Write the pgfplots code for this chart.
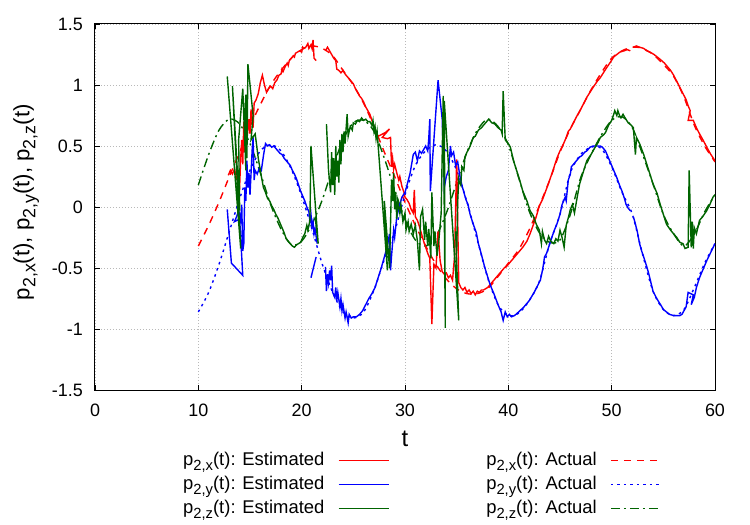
\documentclass[border=0pt]{standalone}
\usepackage{fontspec}
\setmainfont{Liberation Sans}
\usepackage{graphicx}
\usepackage{pgfplots}
\pgfplotsset{compat=1.18}
\definecolor{cr}{RGB}{255,0,0}
\definecolor{cb}{RGB}{0,0,255}
\definecolor{cg}{RGB}{0,100,0}
\newcommand{\sub}[1]{\raisebox{-0.28em}{\scalebox{0.8}{#1}}}
\begin{document}
\begin{tikzpicture}
\path[use as bounding box] (-95bp,-135bp) rectangle (655bp,390bp);
\begin{axis}[
  at={(0,0)}, anchor=south west,
  scale only axis, width=620bp, height=366bp,
  xmin=0, xmax=60, ymin=-1.5, ymax=1.5,
  unbounded coords=jump,
  xtick={0,10,...,60},
  ytick={-1.5,-1,-0.5,0,0.5,1,1.5},
  yticklabels={-1.5,-1,-0.5,0,0.5,1,1.5},
  /pgf/number format/assume math mode=true,
  ticklabel style={font=\fontsize{18}{20}\selectfont},
  xticklabel style={anchor=north, inner sep=0bp, yshift=-14bp},
  yticklabel style={anchor=east, inner sep=0bp, xshift=-12bp},
  major tick length=5bp,
  tick style={black, line width=0.8bp},
  axis line style={black, line width=1bp},
  grid=major,
  grid style={gray!55, line width=0.6bp, dash pattern=on 1bp off 2bp},
  xlabel={t},
  xlabel style={at={(axis description cs:0.5,-0.1557)}, anchor=base, font=\fontsize{24}{26}\selectfont},
  ylabel={p\sub{2,x}(t), p\sub{2,y}(t), p\sub{2,z}(t)},
  ylabel style={at={(axis description cs:-0.111,0.513)}, anchor=center, font=\fontsize{22.3}{25}\selectfont},
  legend columns=2,
  legend plot pos=right,
  legend cell align=right,
  legend image code/.code={\draw[#1] (0bp,0bp) -- (50bp,0bp);},
  legend style={at={(axis description cs:0.1403,-0.1653)}, anchor=north west, draw=none, fill=none, inner sep=0bp,
    font=\fontsize{18.5}{20}\selectfont,
    nodes={inner sep=1bp, text height=13.5bp, text depth=4.5bp},
    row sep=4bp,
    /tikz/every odd column/.append style={column sep=12.5bp},
    /tikz/every even column/.append style={column sep=96bp}},
]
\addlegendimage{cr, line width=1.4bp}
\addlegendentry{p\sub{2,x}(t): Estimated}
\addlegendimage{cr, line width=1.4bp, dash pattern=on 7bp off 6bp}
\addlegendentry{p\sub{2,x}(t): Actual}
\addlegendimage{cb, line width=1.4bp}
\addlegendentry{p\sub{2,y}(t): Estimated}
\addlegendimage{cb, line width=1.4bp, dash pattern=on 2.5bp off 4bp}
\addlegendentry{p\sub{2,y}(t): Actual}
\addlegendimage{cg, line width=1.4bp}
\addlegendentry{p\sub{2,z}(t): Estimated}
\addlegendimage{cg, line width=1.4bp, dash pattern=on 9bp off 4bp on 2bp off 4bp}
\addlegendentry{p\sub{2,z}(t): Actual}

% red actual
\addplot[cr, line width=1.4bp, dash pattern=on 7bp off 6bp, smooth, forget plot] coordinates {
(10,-0.32) (11,-0.15) (12,0.04) (13,0.25) (14,0.45) (15,0.66) (16,0.84) (17,1.00) (18,1.12) (19,1.22) (20,1.29) (21,1.32) (22,1.30) (23,1.24) (24,1.12) (25,1.00) (26,0.85) (27,0.66) (28,0.45) (29,0.25) (30,0.04) (31,-0.15) (32,-0.32) (33,-0.47) (34,-0.59) (35,-0.67) (36,-0.71) (37,-0.71) (38,-0.67) (39,-0.57) (40,-0.46) (41,-0.35) (42,-0.19) (43,0.01) (44,0.22) (45,0.45) (46,0.64) (47,0.80) (48,0.96) (49,1.10) (50,1.22) (51,1.28) (52,1.31) (53,1.30) (54,1.25) (55,1.17) (56,1.07) (57,0.90) (58,0.67) (59,0.50) (60,0.37)
};
% blue actual
\addplot[cb, line width=1.4bp, dash pattern=on 2.5bp off 4bp, smooth, forget plot] coordinates {
(10,-0.86) (11,-0.70) (12,-0.47) (13,-0.20) (14,0.07) (15,0.30) (16,0.46) (17,0.51) (18,0.46) (19,0.31) (20,0.09) (21,-0.18) (22,-0.47) (23,-0.70) (24,-0.86) (25,-0.91) (26,-0.86) (27,-0.68) (28,-0.43) (29,-0.20) (30,0.10) (31,0.34) (32,0.46) (33,0.51) (34,0.46) (35,0.30) (36,0.04) (37,-0.27) (38,-0.58) (39,-0.80) (40,-0.89) (41,-0.87) (42,-0.77) (43,-0.61) (44,-0.30) (45,-0.06) (46,0.28) (47,0.43) (48,0.49) (49,0.48) (50,0.33) (51,0.12) (52,-0.06) (53,-0.39) (54,-0.69) (55,-0.84) (56,-0.89) (57,-0.84) (58,-0.66) (59,-0.46) (60,-0.30)
};
% green actual
\addplot[cg, line width=1.4bp, dash pattern=on 9bp off 4bp on 2bp off 4bp, smooth, forget plot] coordinates {
(10,0.18) (11,0.43) (12,0.63) (13,0.72) (14,0.68) (15,0.52) (16,0.28) (17,0.02) (18,-0.18) (19,-0.31) (20,-0.28) (21,-0.14) (22,0.06) (23,0.32) (24,0.55) (25,0.69) (26,0.71) (27,0.62) (28,0.40) (29,0.14) (30,-0.10) (31,-0.27) (32,-0.32) (33,-0.24) (34,-0.05) (35,0.20) (36,0.45) (37,0.63) (38,0.72) (39,0.66) (40,0.51) (41,0.24) (42,-0.03) (43,-0.21) (44,-0.29) (45,-0.27) (46,-0.06) (47,0.24) (48,0.43) (49,0.59) (50,0.71) (51,0.74) (52,0.65) (53,0.43) (54,0.19) (55,-0.06) (56,-0.22) (57,-0.32) (58,-0.22) (59,-0.04) (60,0.10)
};

% red estimated
\addplot[cr, line width=1.4bp, forget plot] coordinates {
(12.9,0.26) (13.1,0.30) (13.3,0.27) (13.5,0.31) (13.7,0.24) (14.0,0.17) (14.1,0.40) (14.2,0.55) (14.3,0.35) (14.4,0.70) (14.5,0.45) (14.6,0.78) (14.7,0.55) (14.9,0.72) (15.0,0.60) (15.1,0.80) (15.3,0.65) (15.4,0.85) (15.6,0.88) (15.8,0.93) (16.0,1.02) (16.2,1.08) (16.4,1.00) (16.6,0.94) (16.8,0.97) (17.0,0.99) (17.2,0.97) (17.4,1.02) (17.6,1.04) (17.8,1.08) (18.0,1.09) (18.1,1.13) (18.2,1.11) (18.4,1.15) (18.6,1.18) (18.7,1.16) (18.8,1.20) (19.0,1.22) (19.2,1.24) (19.3,1.23) (19.4,1.26) (19.6,1.27) (19.8,1.28) (20.0,1.27) (20.1,1.31) (20.2,1.30) (20.4,1.31) (20.6,1.34) (20.7,1.30) (20.9,1.33) (21.0,1.30) (21.1,1.37) (21.2,1.22) (21.4,1.20)
(21.6,nan)
(22.3,1.28) (22.5,1.31) (22.7,1.28) (22.9,1.25) (23.1,1.22) (23.3,1.20) (23.4,1.13) (23.6,1.12) (23.8,1.10) (24.0,1.12) (24.2,1.09) (24.4,1.07) (24.6,1.05) (24.8,1.03) (25.0,1.01) (25.2,0.97) (25.4,0.94) (25.6,0.91) (25.8,0.89) (26.0,0.86) (26.2,0.82) (26.4,0.79) (26.6,0.76) (26.8,0.71) (27.0,0.66) (27.2,0.61) (27.4,0.58) (28.1,0.61) (28.5,0.64) (27.8,0.57) (28.3,0.56) (28.6,0.57) (28.7,0.33) (28.8,0.40) (28.9,0.31) (29.0,0.35) (29.2,0.28) (29.4,0.22) (29.5,0.25) (29.7,0.17) (29.9,0.12) (30.0,0.08) (30.2,0.06) (30.4,0.03) (30.6,-0.02) (30.8,-0.05) (30.9,0.14) (31.0,-0.08) (31.2,-0.11) (31.4,-0.16) (31.6,-0.22) (31.8,-0.28) (32.0,-0.33) (32.2,-0.38) (32.4,-0.42) (32.6,-0.96) (32.8,-0.47) (33.0,-0.50) (33.2,-0.20) (33.4,-0.44) (33.6,-0.53) (33.8,-0.55) (34.0,-0.54) (34.2,-0.58) (34.4,-0.56) (34.6,-0.60) (34.8,-0.40) (35.0,0.39) (35.2,-0.62) (35.4,-0.66) (35.6,-0.68) (35.8,-0.66) (36.0,-0.70) (36.2,-0.68) (36.4,-0.71) (36.6,-0.69) (36.8,-0.72) (37.0,-0.69) (37.2,-0.70) (37.4,-0.68) (37.6,-0.68) (37.8,-0.67) (38.0,-0.66) (38.2,-0.64) (38.4,-0.62) (38.6,-0.60) (38.8,-0.58) (39.0,-0.56) (39.2,-0.54) (39.4,-0.52) (39.6,-0.50) (39.8,-0.49) (40.2,-0.45) (40.6,-0.41) (41.0,-0.37) (41.4,-0.33) (41.8,-0.28) (42.1,-0.22) (42.4,-0.15) (42.7,-0.08) (43.0,0.01) (43.3,0.06) (43.7,0.15) (44.0,0.22) (44.4,0.32) (44.7,0.40) (45.0,0.46) (45.3,0.51) (45.6,0.57) (45.8,0.62) (46.0,0.64) (46.3,0.69) (46.6,0.74) (47.0,0.80) (47.3,0.85) (47.6,0.90) (47.9,0.94) (48.2,0.98) (48.6,1.03) (48.9,1.06) (49.2,1.10) (49.5,1.14) (49.9,1.19) (50.2,1.23) (50.5,1.25) (50.8,1.27) (51.2,1.28) (51.5,1.29) (51.8,1.28)
(51.9,nan)
(52.1,1.31) (52.4,1.32) (52.7,1.31) (53.1,1.30) (53.4,1.28) (53.7,1.27) (54.1,1.25) (54.4,1.23) (54.7,1.21) (55.1,1.18) (55.4,1.15) (55.7,1.12) (56.0,1.08) (56.3,1.03) (56.6,0.98) (56.9,0.93) (57.2,0.88) (57.4,0.83) (57.6,0.79) (57.4,0.71) (57.9,0.71) (58.2,0.65) (58.5,0.60) (58.9,0.54) (59.2,0.49) (59.6,0.43) (60.0,0.38)
};

% blue estimated
\addplot[cb, line width=1.4bp, forget plot] coordinates {
(12.8,-0.02) (13.2,-0.46) (14.3,-0.56) (14.0,-0.10) (13.5,-0.12) (13.7,-0.08) (13.9,-0.03) (14.1,-0.10) (14.2,0.02) (14.3,-0.36) (14.4,-0.30) (14.5,0.16) (14.6,0.05) (14.7,0.38) (14.8,0.16) (14.9,0.28) (15.0,0.10) (15.2,0.45) (15.3,0.57) (15.4,0.22) (15.5,0.30) (15.7,0.27) (15.9,0.32) (16.1,0.30) (16.3,0.42) (16.5,0.52) (16.7,0.50) (16.9,0.51) (17.1,0.49) (17.3,0.50) (17.5,0.48) (17.7,0.46) (17.9,0.44) (18.1,0.43) (18.3,0.40) (18.5,0.38) (18.7,0.36) (18.9,0.34) (19.1,0.30) (19.3,0.27) (19.5,0.23) (19.7,0.18) (19.9,0.13) (20.1,0.09) (20.3,0.05) (20.5,0.00) (20.7,-0.04) (20.8,-0.12) (20.9,-0.06) (21.0,-0.16) (21.1,-0.12) (21.2,-0.22) (21.3,-0.18) (21.5,-0.30)
(21.6,nan)
(20.9,-0.58) (21.4,-0.41)
(21.5,nan)
(22.3,-0.49) (22.4,-0.69) (22.5,-0.55) (22.6,-0.62) (22.7,-0.52) (22.8,-0.60) (22.9,-0.48) (23.0,-0.70) (23.2,-0.74) (23.3,-0.66) (23.4,-0.77) (23.5,-0.70) (23.7,-0.82) (23.8,-0.75) (23.9,-0.85) (24.0,-0.80) (24.2,-0.91) (24.3,-0.86) (24.5,-0.95) (24.6,-0.88) (24.8,-0.91) (25.0,-0.90) (25.3,-0.90) (25.6,-0.88) (25.9,-0.85) (26.2,-0.80) (26.5,-0.75) (26.8,-0.71) (27.1,-0.66) (27.4,-0.58) (27.7,-0.50) (28.0,-0.41) (28.3,-0.32) (28.5,-0.22) (28.6,-0.52) (28.7,-0.40) (28.9,-0.19) (29.0,-0.25) (29.2,-0.08) (29.5,0.02) (29.7,0.08) (30.0,0.12) (30.2,0.18) (30.5,0.28) (30.7,0.38) (30.8,0.43) (31.0,0.45) (31.2,0.38) (31.4,0.46) (31.6,0.44) (31.8,0.47) (32.0,0.50) (32.2,0.46) (32.3,0.56) (32.4,0.72) (32.45,0.13) (33.2,1.04) (33.6,0.72) (33.8,0.16) (34.0,0.25) (34.2,0.30) (34.4,0.50) (34.5,0.42) (34.7,0.45) (34.9,0.34) (35.1,0.37) (35.3,0.26) (35.5,0.18) (35.7,0.12) (35.9,0.06) (36.1,0.02) (36.3,-0.06) (36.6,-0.14) (36.9,-0.21) (37.1,-0.30) (37.4,-0.39) (37.7,-0.49) (38.1,-0.60) (38.3,-0.65) (38.6,-0.71) (39.0,-0.80) (39.3,-0.86) (39.5,-0.93) (39.7,-0.86) (39.9,-0.90) (40.1,-0.88) (40.3,-0.90) (40.6,-0.89) (41.0,-0.86) (41.5,-0.82) (42.0,-0.77) (42.5,-0.70) (42.8,-0.65) (43.1,-0.60) (43.3,-0.52) (43.4,-0.47) (43.5,-0.41) (43.7,-0.38) (43.9,-0.33) (44.2,-0.25) (44.5,-0.18) (44.7,-0.14) (45.0,-0.06) (45.2,0.02) (45.5,0.08) (45.6,0.05) (45.8,0.22) (46.0,0.27) (46.1,0.33) (46.3,0.35) (46.6,0.38) (46.9,0.41) (47.1,0.42) (47.4,0.45) (47.6,0.46) (47.9,0.49) (48.2,0.50) (48.5,0.50) (48.9,0.50) (49.1,0.49) (49.4,0.46) (49.6,0.42) (49.8,0.38) (50.1,0.32) (50.5,0.24) (50.8,0.17) (51.0,0.13) (51.2,0.08) (51.4,0.02) (51.6,-0.01) (51.8,-0.03)
(51.9,nan)
(52.1,-0.08) (52.3,-0.14) (52.5,-0.21) (52.7,-0.30) (52.9,-0.36) (53.1,-0.41) (53.4,-0.49) (53.6,-0.55) (53.8,-0.62) (54.0,-0.69) (54.3,-0.74) (54.5,-0.77) (54.8,-0.81) (55.0,-0.84) (55.3,-0.86) (55.6,-0.88) (56.0,-0.89) (56.3,-0.89) (56.6,-0.89) (56.8,-0.88) (57.0,-0.85) (57.2,-0.82) (57.4,-0.70) (57.9,-0.72) (57.7,-0.80) (58.0,-0.74) (58.2,-0.66) (58.5,-0.58) (58.8,-0.52) (59.2,-0.44) (59.6,-0.37) (60.0,-0.30)
};

% green estimated
\addplot[cg, line width=1.4bp, forget plot] coordinates {
(12.8,1.07) (14.1,-0.34) (13.3,0.99) (14.0,-0.03) (13.9,0.55) (14.3,0.97) (14.6,0.30) (14.5,0.75) (14.6,0.92) (14.7,0.40) (14.8,1.17) (15.3,0.75) (15.1,0.55) (15.5,0.60) (15.8,0.40) (16.1,0.25) (16.3,0.16) (16.5,0.12) (16.7,0.07) (16.9,0.05) (17.1,0.01) (17.3,-0.02) (17.5,-0.06) (17.7,-0.09) (17.9,-0.13) (18.1,-0.17) (18.3,-0.21) (18.5,-0.26) (18.7,-0.28) (18.9,-0.30) (19.1,-0.32) (19.3,-0.33) (19.5,-0.31) (19.7,-0.30) (19.9,-0.29) (20.1,-0.25) (20.3,-0.22) (20.5,-0.15) (20.6,-0.19) (20.8,-0.11) (20.9,0.50) (21.6,-0.30) (21.3,-0.08) (21.5,-0.18)
(21.6,nan)
(22.4,0.68) (22.6,0.30) (22.8,0.12) (22.9,0.45) (23.0,0.18) (23.1,0.40) (23.2,0.10) (23.3,0.50) (23.4,0.25) (23.5,0.38) (23.6,0.20) (23.7,0.55) (23.8,0.35) (23.9,0.60) (24.0,0.45) (24.1,0.62) (24.2,0.52) (24.4,0.76) (24.5,0.58) (24.7,0.66) (24.9,0.63) (25.0,0.69) (25.2,0.68) (25.4,0.71) (25.6,0.70) (25.8,0.73) (26.0,0.71) (26.2,0.72) (26.4,0.70) (26.6,0.70) (26.8,0.67) (26.9,0.71) (27.0,0.62) (27.1,0.66) (27.2,0.56) (27.3,0.62) (28.3,-0.52) (28.0,0.05) (28.5,-0.50) (28.7,0.22) (28.8,0.05) (28.9,0.28) (29.0,-0.02) (29.1,0.12) (29.2,-0.10) (29.3,0.05) (29.5,-0.05) (29.6,0.02) (29.8,-0.12) (30.0,-0.05) (30.1,-0.19) (30.3,-0.12) (30.4,-0.20) (30.6,-0.14) (30.8,-0.22) (31.0,-0.15) (31.2,-0.28) (31.4,-0.52) (31.5,-0.08) (31.7,-0.02) (31.9,-0.27) (32.0,-0.12) (32.2,-0.32) (32.3,-0.18) (32.5,-0.42) (32.6,0.12) (32.8,-0.32) (32.9,-0.20) (33.1,-0.40) (33.3,-0.25) (33.5,-0.05) (33.7,0.91) (33.9,-0.99) (33.8,0.87) (35.2,-0.93) (34.9,-0.20) (35.0,-0.38) (35.1,0.05) (35.2,0.22) (35.4,0.18) (35.5,0.33) (35.7,0.30) (35.8,0.41) (36.0,0.45) (36.2,0.48) (36.4,0.52) (36.6,0.57) (36.8,0.58) (37.1,0.63) (37.4,0.65) (37.7,0.68) (38.1,0.72) (38.4,0.69) (38.7,0.68) (39.0,0.65) (39.3,0.63) (39.4,0.60) (39.5,0.95) (39.7,0.55) (40.0,0.52) (40.2,0.49) (40.5,0.38) (40.8,0.30) (41.1,0.22) (41.4,0.13) (41.8,0.05) (42.1,-0.03) (42.4,-0.07) (42.7,-0.14) (43.0,-0.19) (43.2,-0.30) (43.3,-0.20) (43.5,-0.27) (43.7,-0.30) (43.9,-0.24) (44.1,-0.28) (44.4,-0.30) (44.6,-0.26) (44.8,-0.28) (45.0,-0.19) (45.2,-0.25) (45.4,-0.33) (45.6,-0.15) (45.8,-0.09) (46.0,-0.02) (46.2,0.02) (46.4,-0.05) (46.6,0.05) (46.9,0.19) (47.3,0.30) (47.6,0.38) (48.0,0.43) (48.4,0.49) (48.7,0.53) (48.9,0.57) (49.2,0.59) (49.4,0.61) (49.7,0.67) (50.0,0.71) (50.2,0.76) (50.3,0.79) (50.5,0.75) (50.6,0.79) (50.8,0.74) (50.9,0.73) (51.1,0.76) (51.3,0.73) (51.6,0.69) (51.9,0.67) (52.1,0.65) (52.3,0.43) (52.4,0.57) (52.7,0.52) (53.1,0.43) (53.4,0.35) (53.7,0.27) (54.0,0.19) (54.4,0.11) (54.7,0.02) (55.0,-0.06) (55.3,-0.14) (55.7,-0.19) (56.0,-0.22) (56.3,-0.25) (56.6,-0.29) (56.9,-0.30) (57.1,-0.34) (57.4,-0.33) (57.5,0.30) (57.7,-0.33) (57.8,-0.12) (57.9,-0.34) (58.0,-0.17) (58.2,-0.22) (58.5,-0.11) (58.8,-0.08) (59.2,-0.03) (59.5,0.02) (59.8,0.08) (60.0,0.10)
};
\end{axis}
\end{tikzpicture}
\end{document}
